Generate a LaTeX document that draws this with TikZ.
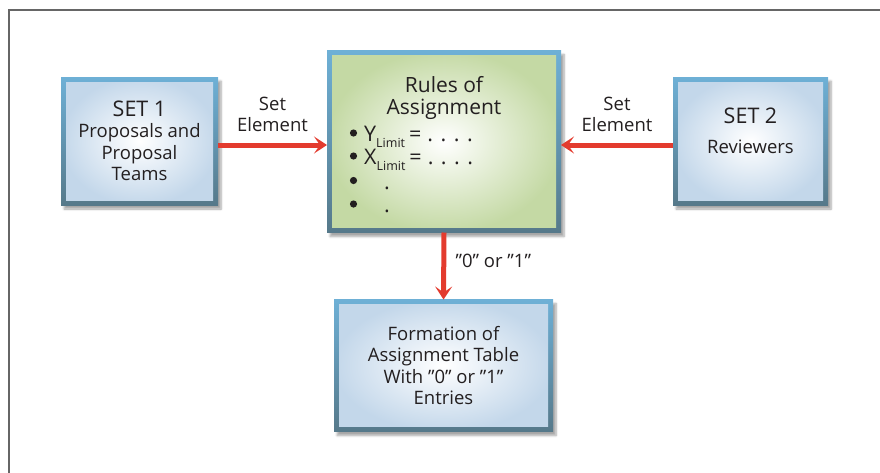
\documentclass[tikz,border=0pt]{standalone}
\usepackage{fontspec}
\setmainfont{Open Sans}
\usetikzlibrary{arrows.meta,shadows.blur}

\definecolor{edgetop}{HTML}{6EB0D6}
\definecolor{edgebot}{HTML}{56798A}
\definecolor{fillblue}{HTML}{C3D7EA}
\definecolor{fillgreen}{HTML}{C4D9A4}
\definecolor{arrowred}{HTML}{E33B2E}
\definecolor{framegray}{HTML}{666666}
\definecolor{txt}{HTML}{231F20}

\newcommand{\limitsub}{\raisebox{-0.55ex}{\fontsize{12.5}{12}\selectfont Limit}}
\newcommand{\dotrow}{=\hspace{6pt}.\hspace{7.5pt}.\hspace{7.5pt}.\hspace{7.5pt}.}

\tikzset{
  panel/.style={rectangle, minimum width=#1, inner sep=0pt, outer sep=0pt,
    top color=edgetop, bottom color=edgebot,
    blur shadow={shadow xshift=3pt, shadow yshift=-4pt, shadow blur steps=6, shadow opacity=35}},
  bluefill/.style={path picture={\shade[inner color=white, outer color=fillblue]
      ([shift={(5pt,-5pt)}]path picture bounding box.north west) rectangle
      ([shift={(-5pt,5pt)}]path picture bounding box.south east);}},
  greenfill/.style={path picture={\shade[inner color=white, outer color=fillgreen]
      ([shift={(5pt,-5pt)}]path picture bounding box.north west) rectangle
      ([shift={(-5pt,5pt)}]path picture bounding box.south east);}},
  boxtext/.style={text=txt, align=center, font=\fontsize{18.5}{21.5}\selectfont},
  flowlabel/.style={text=txt, align=center, font=\fontsize{18.5}{21}\selectfont},
  ruleline/.style={text=txt, anchor=base west, inner sep=0pt, font=\fontsize{21.5}{22}\selectfont},
  dotline/.style={ruleline, text height=3pt, text depth=0pt},
  bulletdot/.style={fill=txt, draw=none},
  flow/.style={draw=arrowred, line width=5pt,
    -{Stealth[length=13pt, width=17pt, inset=6pt]}},
}

\begin{document}
\begin{tikzpicture}[x=1pt, y=-1pt]
  \useasboundingbox (0,0) rectangle (880,472);
  % outer frame, open to the right and bottom
  \draw[framegray, line width=2pt] (881,10) -- (9,10) -- (9,473);

  % boxes
  \node[panel=157pt, minimum height=128pt, bluefill]  (s1)    at (139.5,141) {};
  \node[panel=234pt, minimum height=182pt, greenfill] (rules) at (444,141.5) {};
  \node[panel=155pt, minimum height=128pt, bluefill]  (s2)    at (750.5,141) {};
  \node[panel=219pt, minimum height=132pt, bluefill]  (form)  at (443.5,365.5) {};

  % box texts
  \node[boxtext] (s1t) at (s1.center)
    {{\fontsize{21.5}{21.5}\selectfont SET 1}\\Proposals and\\Proposal\\Teams};
  \node[boxtext] (s2t) at ([yshift=10pt]s2.center)
    {{\fontsize{21.5}{21.5}\selectfont SET 2}\\[8pt]Reviewers};
  \node[boxtext, font=\fontsize{21}{22}\selectfont, anchor=north] (rt)
    at ([yshift=-22pt]rules.north) {Rules of\\Assignment};

  % bulleted rules
  \node[ruleline] (ry) at (364,141) {Y\limitsub\hspace{4pt}\dotrow};
  \node[ruleline] (rx) at (364,164) {X\limitsub\hspace{4pt}\dotrow};
  \node[dotline]  (r3) at (384,189) {.};
  \node[dotline]  (r4) at (384,212.5) {.};
  \foreach \yy in {133,156,180.5,204}
    \fill[bulletdot] (353.5,\yy) circle (3.6pt);

  \node[boxtext] (ft) at (form.center)
    {Formation of\\Assignment Table\\With ”0” or ”1”\\Entries};

  % connectors
  \draw[flow] (s1.east |- 0,145) -- (rules.west |- 0,145)
    node[flowlabel, midway, above=7pt] (l1) {Set\\Element};
  \draw[flow] (s2.west |- 0,145) -- (rules.east |- 0,145)
    node[flowlabel, midway, above=7pt] (l2) {Set\\Element};
  \draw[flow] (rules.south) -- (form.north)
    node[flowlabel, pos=0.42, right=6pt] (l3) {”0” or ”1”};
\end{tikzpicture}
\end{document}
